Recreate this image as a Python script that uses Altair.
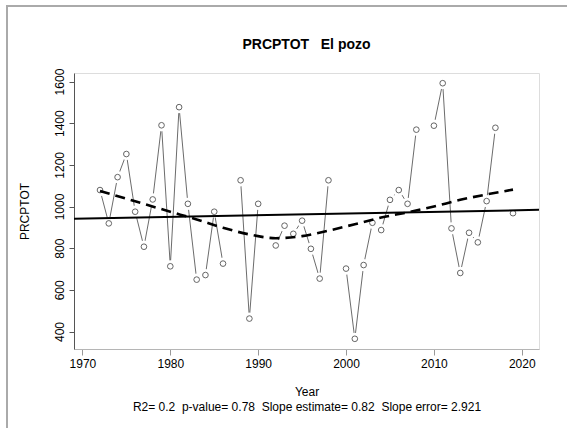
import altair as alt
import pandas as pd

# Annual total precipitation (PRCPTOT) at El pozo; None marks missing years
years = list(range(1971, 2021))
prcptot = [
    None, 1079, 919, 1141, 1252, 975, 807, 1034, 1390, 713,
    1477, 1013, 649, 671, 975, 726, None, 1126, 462, 1013,
    None, 813, 908, 869, 932, 797, 654, 1126, None, 702,
    365, 719, 922, 887, 1032, 1079, 1013, 1369, None, 1388,
    1592, 895, 681, 874, 828, 1026, 1378, None, 968, None,
]

# Lowess smooth of the series
smooth_years = [1972, 1976, 1980, 1983, 1986, 1989, 1992, 1995, 1998, 2001,
                2004, 2007, 2010, 2013, 2016, 2019]
smooth_vals = [1075, 1025, 975, 938, 898, 866, 848, 858, 884, 915,
               947, 972, 1000, 1032, 1058, 1081]

# Linear trend: slope per year and the fitted value at a reference year
slope_est = 0.82
trend_ref_year = 1995
trend_ref_val = 962

x_range = [1969.04, 2021.96]
y_range = [316, 1641]
x_ticks = [1970, 1980, 1990, 2000, 2010, 2020]
y_ticks = [400, 600, 800, 1000, 1200, 1400, 1600]

title_text = "PRCPTOT\u00a0\u00a0\u00a0El pozo"
x_title = "Year"
stats_line = "R2= 0.2\u00a0\u00a0p-value= 0.78\u00a0\u00a0Slope estimate= 0.82\u00a0\u00a0Slope error= 2.921"
y_title = "PRCPTOT"

FONT = "Liberation Sans"

# Series table; a new segment starts after each missing year
rows = []
seg = 0
for yr, v in zip(years, prcptot):
    if v is None:
        seg += 1
        continue
    rows.append({"year": yr, "value": v, "seg": seg})
series = pd.DataFrame(rows)

smooth = pd.DataFrame({"year": smooth_years, "value": smooth_vals})
trend = pd.DataFrame({
    "year": x_range,
    "value": [trend_ref_val + slope_est * (x - trend_ref_year) for x in x_range],
})

x_scale = alt.Scale(domain=x_range, nice=False, zero=False)
y_scale = alt.Scale(domain=y_range, nice=False, zero=False)

x_enc = alt.X(
    "year:Q", scale=x_scale,
    axis=alt.Axis(
        values=x_ticks, format="d", title=[x_title, stats_line],
        titleLineHeight=15, titlePadding=17, titleFont=FONT, titleFontSize=12,
        titleFontWeight="normal", titleColor="black",
        labelFont=FONT, labelFontSize=12, labelColor="black", labelPadding=3,
        tickSize=6, tickColor="#999", domainColor="#b5b5b5", grid=False,
    ),
)
y_enc = alt.Y(
    "value:Q", scale=y_scale,
    axis=alt.Axis(
        values=y_ticks, format="d", title=y_title, titlePadding=22, titleFont=FONT,
        titleFontSize=12, titleFontWeight="normal", titleColor="black",
        labelFont=FONT, labelFontSize=12, labelColor="black",
        labelAngle=270, labelAlign="center", labelBaseline="bottom",
        labelPadding=3, tickSize=5, tickColor="#555", domainColor="#555",
        grid=False,
    ),
)

base = alt.Chart(series).encode(x=x_enc, y=y_enc)

connect = base.mark_line(color="#3a3a3a", strokeWidth=0.75).encode(detail="seg:N")
gap_mask = base.mark_point(shape="circle", filled=True, color="white", opacity=1, size=150)
points = base.mark_point(shape="circle", filled=False, color="#555", strokeWidth=0.9, size=32, opacity=1)

trend_line = alt.Chart(trend).mark_line(color="black", strokeWidth=2, clip=True).encode(
    x=alt.X("year:Q", scale=x_scale), y=alt.Y("value:Q", scale=y_scale)
)
smooth_line = alt.Chart(smooth).mark_line(
    color="black", strokeWidth=2.6, strokeDash=[10, 6], interpolate="monotone"
).encode(x=alt.X("year:Q", scale=x_scale), y=alt.Y("value:Q", scale=y_scale))

# Light border around the figure
border = alt.Chart(pd.DataFrame({"k": [0]})).mark_rect(
    fill=None, stroke="#aaaaaa", strokeWidth=2
).encode(x=alt.value(-67), y=alt.value(-67), x2=alt.value(600), y2=alt.value(500))

chart = alt.layer(border, connect, gap_mask, points, trend_line, smooth_line).properties(
    width=465, height=276,
    title=alt.TitleParams(title_text, font=FONT, fontSize=14, fontWeight="bold",
                          color="black", anchor="middle", offset=-47),
    padding={"left": 74, "top": 73, "right": 28, "bottom": 79},
    autosize="none",
).configure_view(stroke="#555", strokeWidth=1).configure(background="white")

chart.save("out.html", embed_options={"renderer": "svg", "actions": False})
